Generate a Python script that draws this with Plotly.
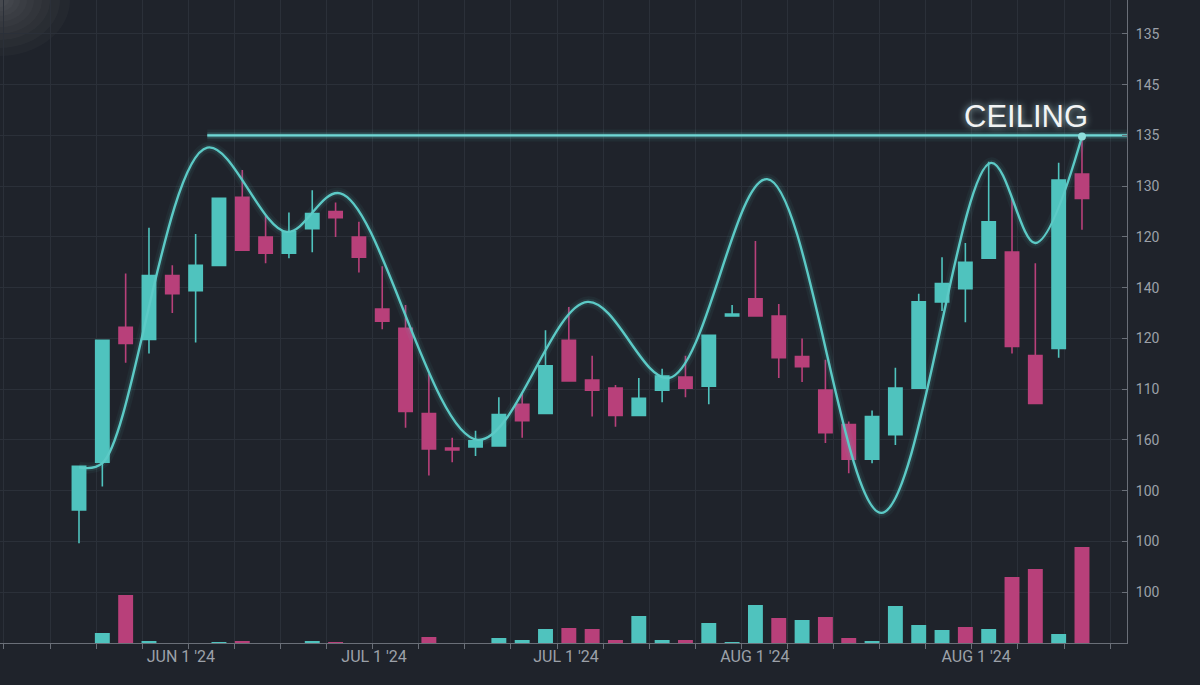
import plotly.graph_objects as go

# ---------------- data ----------------
candle_idx = list(range(44))
opens = [98.1, 102.8, 116.1, 114.9, 121.2, 119.7, 122.2, 128.9, 125.0, 123.4,
         125.8, 127.5, 125.0, 117.9, 116.0, 107.6, 104.2, 104.3, 104.4, 108.5,
         107.6, 114.8, 110.9, 110.1, 107.4, 109.9, 111.2, 110.3, 117.2, 118.9,
         117.2, 113.2, 109.9, 106.5, 103.1, 105.5, 110.1, 118.6, 119.9, 122.9,
         123.5, 113.3, 114.0, 131.2]
highs = [102.4, 114.8, 121.4, 125.9, 122.2, 125.3, 128.8, 131.6, 127.1, 127.4,
         129.6, 128.4, 126.5, 122.1, 118.3, 111.5, 105.2, 105.9, 109.2, 109.7,
         115.8, 118.1, 113.3, 110.4, 111.1, 112.0, 113.3, 115.3, 118.3, 124.6,
         118.4, 115.0, 112.9, 106.8, 107.9, 112.1, 119.4, 123.0, 124.4, 132.4,
         128.8, 122.4, 132.3, 134.9]
lows = [94.8, 100.4, 112.6, 113.5, 117.5, 114.6, 122.2, 123.7, 122.4, 122.9,
        123.5, 125.0, 121.5, 115.9, 106.2, 101.5, 102.8, 103.4, 104.4, 105.2,
        107.6, 110.8, 107.3, 106.3, 107.4, 108.7, 109.2, 108.5, 117.2, 117.2,
        111.1, 110.7, 104.7, 101.7, 102.7, 104.5, 110.1, 117.7, 116.6, 122.9,
        113.5, 108.6, 113.1, 125.7]
closes = [102.4, 114.8, 114.5, 121.2, 119.4, 122.2, 128.8, 123.7, 123.4, 125.5,
          127.3, 126.9, 123.0, 116.7, 107.8, 104.1, 104.0, 104.9, 107.5, 106.9,
          112.3, 110.8, 109.9, 107.4, 109.1, 111.3, 110.1, 115.3, 117.4, 117.2,
          113.1, 112.2, 105.7, 103.1, 107.3, 110.1, 118.6, 120.4, 122.5, 126.5,
          114.2, 108.6, 130.6, 128.8]
volume = [0.0, 1.0, 4.8, 0.2, 0.0, 0.0, 0.1, 0.2, 0.0, 0.0,
          0.2, 0.1, 0.0, 0.0, 0.0, 0.6, 0.0, 0.0, 0.5, 0.3,
          1.4, 1.5, 1.4, 0.3, 2.7, 0.3, 0.3, 2.0, 0.1, 3.8,
          2.5, 2.3, 2.6, 0.5, 0.2, 3.7, 1.8, 1.3, 1.6, 1.4,
          6.6, 7.4, 0.9, 9.6]
volume_up = [1, 1, 0, 1, 1, 1, 1, 0, 0, 1,
             1, 0, 0, 0, 0, 0, 0, 1, 1, 1,
             1, 0, 0, 0, 1, 1, 0, 1, 1, 1,
             0, 1, 0, 0, 1, 1, 1, 1, 0, 1,
             0, 0, 1, 0]
trend_x = [0, 1, 5.5, 8.9, 11.2, 17.1, 21.8, 25.3, 29.5, 34.4, 39.1, 41.0, 43]
trend_y = [102.3, 102.7, 133.8, 125.5, 129.3, 105.0, 118.6, 111.1, 130.7, 97.8,
           132.3, 124.4, 134.9]
ceiling_level = 135
ceiling_start = 5.5
ceiling_label = "CEILING"
ytick_vals = [145, 140, 135, 130, 125, 120, 115, 110, 105, 100, 95, 90]
ytick_text = ["135", "145", "135", "130", "120", "140", "120", "110", "160",
              "100", "100", "100"]
xlabel_pos = [4.37, 12.65, 20.88, 28.98, 38.46]
xlabel_text = ["JUN 1 '24", "JUL 1 '24", "JUL 1 '24", "AUG 1 '24", "AUG 1 '24"]

# ---------------- styling ----------------
BG = "#1f232b"
GRID = "#2b3039"
TEAL = "#4fc3be"
PINK = "#b8407a"
LINE = "#5ccac6"
TXT = "#9ca1a9"
X_RANGE = [-3.387, 44.93]
Y_RANGE = [84.98, 148.35]
PLOT_W, PLOT_H = 1127, 643

fig = go.Figure()

# volume bars (secondary axis, bottom of panel)
fig.add_trace(go.Bar(
    x=candle_idx, y=volume, yaxis="y2",
    marker=dict(color=[TEAL if u else PINK for u in volume_up], line=dict(width=0)),
    width=0.64, hoverinfo="skip", showlegend=False,
))

# candles
fig.add_trace(go.Candlestick(
    x=candle_idx, open=opens, high=highs, low=lows, close=closes,
    increasing=dict(line=dict(color=TEAL, width=1.6), fillcolor=TEAL),
    decreasing=dict(line=dict(color=PINK, width=1.6), fillcolor=PINK),
    whiskerwidth=0, showlegend=False, hoverinfo="skip",
))

# ceiling line with glow
for w, op in [(12, 0.06), (7, 0.12), (4, 0.25)]:
    fig.add_trace(go.Scatter(
        x=[ceiling_start, X_RANGE[1]], y=[ceiling_level, ceiling_level],
        mode="lines", line=dict(color=LINE, width=w), opacity=op,
        hoverinfo="skip", showlegend=False))
fig.add_trace(go.Scatter(
    x=[ceiling_start, X_RANGE[1]], y=[ceiling_level, ceiling_level],
    mode="lines", line=dict(color="#6fd6d4", width=2.2),
    hoverinfo="skip", showlegend=False))

# smooth trend line with glow
for w, op in [(11, 0.05), (6, 0.10)]:
    fig.add_trace(go.Scatter(
        x=trend_x, y=trend_y, mode="lines",
        line=dict(color=LINE, width=w, shape="spline", smoothing=1.0),
        opacity=op, hoverinfo="skip", showlegend=False))
fig.add_trace(go.Scatter(
    x=trend_x, y=trend_y, mode="lines",
    line=dict(color=LINE, width=2.4, shape="spline", smoothing=1.0),
    hoverinfo="skip", showlegend=False))
fig.add_trace(go.Scatter(
    x=[trend_x[-1]], y=[trend_y[-1]], mode="markers",
    marker=dict(color="#8fdedb", size=8, line=dict(width=0)),
    hoverinfo="skip", showlegend=False))

# carrier trace for the date-label axis
fig.add_trace(go.Scatter(
    x=xlabel_pos, y=[ytick_vals[-1]] * len(xlabel_pos), xaxis="x2",
    mode="markers", marker=dict(opacity=0), hoverinfo="skip", showlegend=False))

# CEILING label
fig.add_annotation(
    x=candle_idx[-1], y=ceiling_level, xref="x", yref="y",
    text=ceiling_label, showarrow=False, xanchor="right", yanchor="bottom",
    xshift=7, yshift=0, borderpad=0,
    font=dict(family="Liberation Sans, Arial, sans-serif", size=31, color="#f2f4f4",
              shadow="0px 0px 7px rgba(190,235,235,0.75)"))

# soft top-left light bloom
for r in [70, 60, 50, 42, 34, 27, 20, 14, 9]:
    fig.add_shape(type="circle", xref="paper", yref="paper",
                  x0=-r / PLOT_W, x1=r / PLOT_W,
                  y0=1 - 0.8 * r / PLOT_H, y1=1 + 0.8 * r / PLOT_H,
                  fillcolor="rgba(255,255,255,0.022)", line=dict(width=0),
                  layer="below")

fig.update_layout(
    width=1200, height=685,
    margin=dict(l=0, r=73, t=0, b=42),
    paper_bgcolor=BG, plot_bgcolor=BG,
    showlegend=False, boxgap=0.43, boxgroupgap=0,
    font=dict(family="Roboto, sans-serif", color=TXT, size=14),
    xaxis=dict(
        range=X_RANGE, rangeslider=dict(visible=False),
        tickmode="linear", tick0=-1.243, dtick=1.976,
        showticklabels=False, ticks="outside", ticklen=5, tickcolor="#6a6f78",
        showgrid=True, gridcolor=GRID, gridwidth=1, zeroline=False,
        showline=True, linecolor="#6a6f78", linewidth=1,
    ),
    xaxis2=dict(
        range=X_RANGE, overlaying="x", anchor="y", side="bottom",
        tickmode="array", tickvals=xlabel_pos, ticktext=xlabel_text,
        ticks="", showgrid=False, zeroline=False, showline=False,
        ticklabelstandoff=2,
        tickfont=dict(family="Roboto, sans-serif", size=16, color=TXT),
    ),
    yaxis=dict(
        range=Y_RANGE, side="right",
        tickmode="array", tickvals=ytick_vals, ticktext=ytick_text,
        ticks="inside", ticklen=5, tickcolor="#6a6f78",
        showgrid=True, gridcolor=GRID, gridwidth=1, zeroline=False,
        showline=True, linecolor="#6a6f78", linewidth=1,
        ticklabelstandoff=5,
        tickfont=dict(family="Roboto, sans-serif", size=14, color=TXT),
    ),
    yaxis2=dict(range=[0, 64.3], overlaying="y", visible=False),
)

fig.write_html("out.html")
